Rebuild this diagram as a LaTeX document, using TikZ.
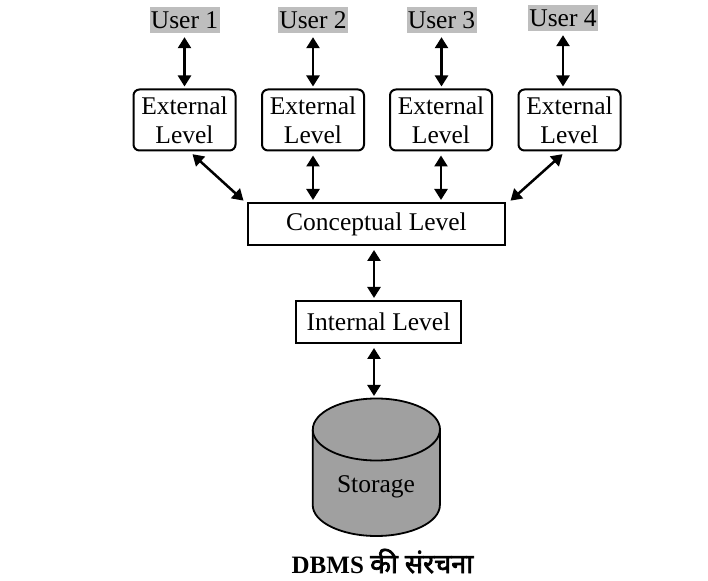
\documentclass[tikz,border=0pt]{standalone}
\usepackage{fontspec}
\setmainfont{Liberation Serif}
\newfontfamily\hindifont[Script=Devanagari, Scale=1.08, AutoFakeBold=2.5]{Noto Sans}
\usetikzlibrary{arrows.meta}
\definecolor{usergray}{RGB}{190,190,190}
\definecolor{diskgray}{RGB}{160,160,160}

\begin{document}
\begin{tikzpicture}[x=1pt, y=1pt,
    font=\fontsize{25.5}{29}\selectfont,
    usr/.style={fill=usergray, inner sep=0pt, minimum width=70pt, minimum height=26pt},
    ext/.style={draw, line width=2pt, rounded corners=6pt, align=center,
        inner sep=0pt, minimum width=102pt, minimum height=61pt},
    lvl/.style={draw, line width=2pt, inner sep=0pt, minimum height=42pt},
    link/.style={{Triangle[length=11pt,width=13pt]}-{Triangle[length=11pt,width=13pt]},
        line width=2.5pt, shorten <=4pt, shorten >=2pt}]
    \useasboundingbox (0,0) rectangle (708,580);

    % users and their views
    \node[usr] (u1) at (184.5,560) {User 1};
    \node[usr] (u2) at (313,560) {User 2};
    \node[usr] (u3) at (441.5,560) {User 3};
    \node[usr] (u4) at (563,562) {User 4};
    \node[ext] (e1) at (184.5,460) {External\\Level};
    \node[ext] (e2) at (313,460) {External\\Level};
    \node[ext] (e3) at (441,460) {External\\Level};
    \node[ext] (e4) at (569.5,460) {External\\Level};

    \node[lvl, minimum width=257pt] (c) at (376.5,356) {Conceptual Level};
    \node[lvl, minimum width=165pt] (i) at (378.5,258) {Internal Level};

    % the disk
    \coordinate (disk) at (374,182);
    \filldraw[fill=diskgray, line width=1.8pt]
        (312.7,150.5) -- (312.7,75) arc[start angle=180, end angle=360, x radius=63.6, y radius=31]
        -- (440,150.5) arc[start angle=0, end angle=180, x radius=63.6, y radius=31] -- cycle;
    \draw[line width=1.8pt] (312.7,150.5) arc[start angle=180, end angle=360, x radius=63.6, y radius=31];
    \node (s) at (376,93) {Storage};

    \foreach \n in {1,...,4}
        \draw[link] (u\n.south) -- (u\n.south |- e\n.north);
    \draw[link] ([xshift=5pt]e1.south) -- ([xshift=-2pt]c.north west);
    \draw[link] (e2.south) -- (e2.south |- c.north);
    \draw[link] (e3.south) -- (e3.south |- c.north);
    \draw[link] ([xshift=-4pt]e4.south) -- ([xshift=3pt]c.north east);
    \draw[link] (disk |- c.south) -- (disk |- i.north);
    \draw[link] (disk |- i.south) -- (disk);

    \node[anchor=base, font=\fontsize{25}{29}\selectfont\bfseries] (cap) at (382.5,7)
        {DBMS {\hindifont की संरचना}};
\end{tikzpicture}
\end{document}
